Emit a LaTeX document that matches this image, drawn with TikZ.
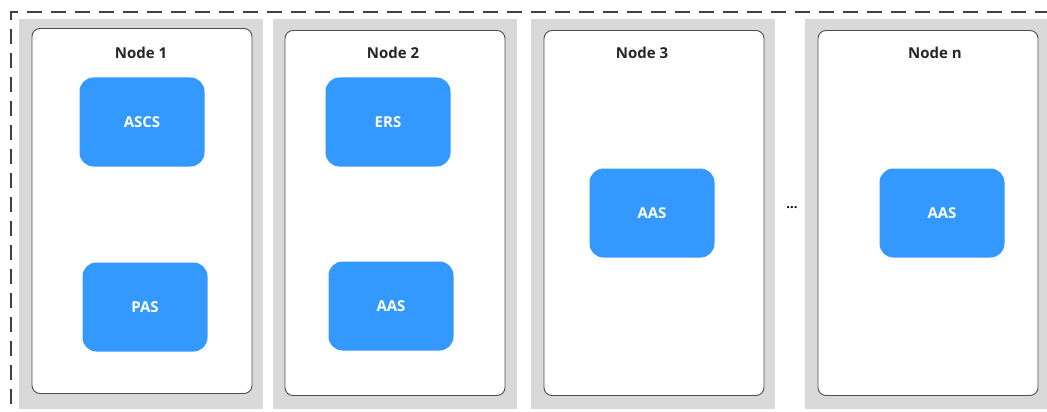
\documentclass[tikz,border=0pt]{standalone}
\usepackage{fontspec}
\setmainfont{Open Sans}
\usetikzlibrary{positioning}

\definecolor{panelgray}{HTML}{D9D9D9}
\definecolor{svcblue}{HTML}{3399FF}
\definecolor{edgegray}{HTML}{505050}

\begin{document}
\begin{tikzpicture}[
    x=1pt, y=-1pt,
    panel/.style={rectangle, fill=panelgray, minimum width=244pt, minimum height=390pt, inner sep=0pt},
    host/.style={rectangle, draw=edgegray, line width=0.9pt, fill=white, rounded corners=8pt, minimum width=220pt, minimum height=365pt, inner sep=0pt},
    title/.style={font=\fontsize{15}{17}\selectfont\bfseries, text=black!85},
    service/.style={rectangle, fill=svcblue, rounded corners=14pt, minimum width=125pt, minimum height=89pt, text=white, font=\fontsize{15}{17}\selectfont\bfseries},
    boundary/.style={draw=black!75, line width=2.4pt, dash pattern=on 15pt off 9pt}
]
\useasboundingbox (0,0) rectangle (1047,412);
% outer cluster boundary
\coordinate (bndTR) at (1050,12);
\coordinate (bndTL) at (11,12);
\coordinate (bndBL) at (11,415);
\draw[boundary] (bndTR) -- (bndTL) -- (bndBL);

% node 1
\node[panel] (panel1) at (141,214) {};
\node[host] (host1) at (142,211) {};
\node[title] (title1) at (141,53) {Node 1};
\node[service] (ascs) at (142,122) {ASCS};
\node[service] (pas) at (145,307) {PAS};

% node 2
\node[panel] (panel2) at (394.5,214) {};
\node[host] (host2) at (395,213) {};
\node[title] (title2) at (393,53) {Node 2};
\node[service] (ers) at (388,122) {ERS};
\node[service] (aas2) at (391,306) {AAS};

% node 3
\node[panel] (panel3) at (653,214) {};
\node[host] (host3) at (654,213) {};
\node[title] (title3) at (642,53) {Node 3};
\node[service] (aas3) at (652,213) {AAS};

% gap
\node[font=\fontsize{13}{15}\selectfont\bfseries] (dots) at (792,208) {...};

% node n
\node[panel] (paneln) at (927,214) {};
\node[host] (hostn) at (928,213) {};
\node[title] (titlen) at (935,53) {Node n};
\node[service] (aasn) at (942,213) {AAS};
\end{tikzpicture}
\end{document}
